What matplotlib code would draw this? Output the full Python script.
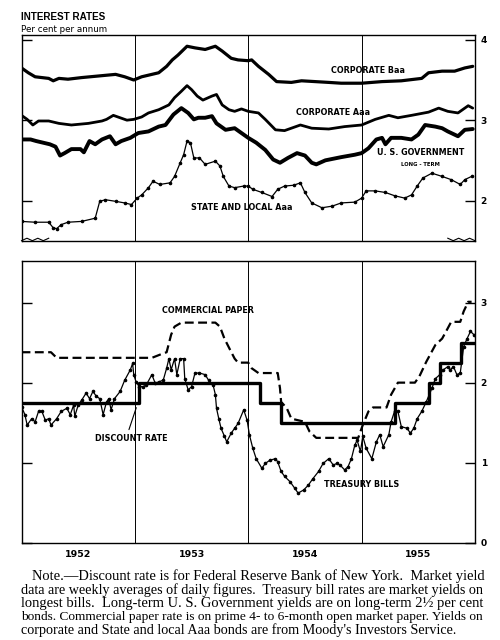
import matplotlib
matplotlib.use("Agg")
import matplotlib.pyplot as plt

# ---------------- data (fractional years, per cent per annum) ----------------
baa_t = [1952.00, 1952.06, 1952.12, 1952.24, 1952.28, 1952.33, 1952.41, 1952.53, 1952.68, 1952.83,
         1952.91, 1952.99, 1953.06, 1953.21, 1953.28, 1953.33, 1953.38, 1953.46, 1953.53, 1953.62,
         1953.71, 1953.77, 1953.85, 1953.91, 1954.00, 1954.03, 1954.09, 1954.18, 1954.25, 1954.38,
         1954.47, 1954.59, 1954.71, 1954.82, 1955.00, 1955.18, 1955.35, 1955.53, 1955.59, 1955.71,
         1955.82, 1955.91, 1955.98]
baa_v = [3.65, 3.59, 3.54, 3.52, 3.49, 3.52, 3.51, 3.53, 3.55, 3.57,
         3.54, 3.50, 3.54, 3.59, 3.67, 3.75, 3.81, 3.92, 3.90, 3.88,
         3.92, 3.86, 3.77, 3.75, 3.74, 3.75, 3.67, 3.57, 3.48, 3.47,
         3.49, 3.48, 3.47, 3.46, 3.46, 3.48, 3.49, 3.52, 3.59, 3.61,
         3.61, 3.65, 3.67]

aaa_t = [1952.00, 1952.05, 1952.10, 1952.15, 1952.24, 1952.33, 1952.44, 1952.59, 1952.71, 1952.75,
         1952.81, 1952.87, 1952.93, 1952.99, 1953.06, 1953.12, 1953.21, 1953.30, 1953.35, 1953.41,
         1953.46, 1953.50, 1953.55, 1953.60, 1953.68, 1953.72, 1953.77, 1953.83, 1953.88, 1953.94,
         1954.00, 1954.09, 1954.15, 1954.24, 1954.32, 1954.46, 1954.56, 1954.71, 1954.85, 1955.00,
         1955.12, 1955.24, 1955.32, 1955.44, 1955.59, 1955.68, 1955.76, 1955.85, 1955.94, 1955.98]
aaa_v = [3.06, 3.01, 2.94, 2.99, 2.99, 2.96, 2.94, 2.96, 2.99, 3.01,
         3.06, 3.03, 3.00, 3.01, 3.04, 3.09, 3.13, 3.19, 3.28, 3.36,
         3.43, 3.38, 3.30, 3.25, 3.30, 3.32, 3.19, 3.13, 3.11, 3.14,
         3.11, 3.09, 3.01, 2.88, 2.87, 2.94, 2.90, 2.89, 2.92, 2.94,
         3.01, 3.06, 3.03, 3.06, 3.10, 3.15, 3.11, 3.09, 3.18, 3.15]

gov_t = [1952.00, 1952.08, 1952.13, 1952.19, 1952.25, 1952.30, 1952.34, 1952.38, 1952.44, 1952.52,
         1952.55, 1952.60, 1952.65, 1952.71, 1952.78, 1952.83, 1952.88, 1952.96, 1953.03, 1953.12,
         1953.21, 1953.27, 1953.34, 1953.41, 1953.47, 1953.52, 1953.56, 1953.62, 1953.68, 1953.72,
         1953.80, 1953.88, 1953.94, 1954.00, 1954.07, 1954.15, 1954.22, 1954.28, 1954.35, 1954.43,
         1954.50, 1954.56, 1954.60, 1954.68, 1954.82, 1954.94, 1955.00, 1955.06, 1955.13, 1955.18,
         1955.21, 1955.26, 1955.35, 1955.44, 1955.50, 1955.56, 1955.65, 1955.71, 1955.76, 1955.85,
         1955.91, 1955.98]
gov_v = [2.76, 2.76, 2.74, 2.72, 2.70, 2.67, 2.56, 2.59, 2.64, 2.64,
         2.60, 2.74, 2.70, 2.76, 2.80, 2.70, 2.74, 2.78, 2.84, 2.86,
         2.92, 2.94, 3.07, 3.15, 3.09, 3.01, 3.03, 3.03, 3.05, 2.96,
         2.88, 2.90, 2.84, 2.78, 2.72, 2.63, 2.51, 2.47, 2.53, 2.59,
         2.56, 2.47, 2.45, 2.50, 2.54, 2.57, 2.59, 2.65, 2.76, 2.78,
         2.70, 2.78, 2.78, 2.76, 2.82, 2.94, 2.92, 2.90, 2.86, 2.80,
         2.88, 2.89]

state_t = [1952.00, 1952.12, 1952.24, 1952.28, 1952.31, 1952.35, 1952.41, 1952.53, 1952.65, 1952.69,
           1952.74, 1952.83, 1952.91, 1952.97, 1953.02, 1953.06, 1953.12, 1953.16, 1953.22, 1953.31,
           1953.35, 1953.40, 1953.43, 1953.46, 1953.49, 1953.52, 1953.57, 1953.62, 1953.71, 1953.75,
           1953.78, 1953.83, 1953.88, 1953.96, 1954.00, 1954.04, 1954.12, 1954.21, 1954.26, 1954.32,
           1954.40, 1954.46, 1954.50, 1954.56, 1954.65, 1954.74, 1954.82, 1954.94, 1955.00, 1955.04,
           1955.12, 1955.21, 1955.29, 1955.38, 1955.44, 1955.49, 1955.54, 1955.62, 1955.71, 1955.79,
           1955.87, 1955.91, 1955.97]
state_v = [1.74, 1.73, 1.73, 1.66, 1.65, 1.70, 1.73, 1.74, 1.78, 1.99,
           2.01, 1.99, 1.97, 1.95, 2.03, 2.07, 2.16, 2.24, 2.20, 2.22,
           2.30, 2.47, 2.57, 2.74, 2.72, 2.53, 2.53, 2.45, 2.49, 2.43,
           2.30, 2.18, 2.16, 2.18, 2.18, 2.14, 2.10, 2.05, 2.14, 2.18,
           2.19, 2.22, 2.10, 1.97, 1.91, 1.93, 1.97, 1.98, 2.03, 2.12,
           2.12, 2.10, 2.06, 2.03, 2.07, 2.18, 2.28, 2.34, 2.30, 2.26,
           2.20, 2.26, 2.30]

cp_t = [1952.00, 1952.26, 1952.31, 1953.15, 1953.24, 1953.28, 1953.32, 1953.35, 1953.41, 1953.71,
        1953.75, 1953.79, 1953.84, 1953.88, 1953.91, 1954.00, 1954.03, 1954.09, 1954.26, 1954.28,
        1954.29, 1954.34, 1954.38, 1954.50, 1954.54, 1954.60, 1954.97, 1955.01, 1955.06, 1955.10,
        1955.22, 1955.26, 1955.32, 1955.47, 1955.51, 1955.57, 1955.65, 1955.71, 1955.76, 1955.79,
        1955.87, 1955.90, 1955.94, 1955.97]
cp_v = [2.38, 2.38, 2.31, 2.31, 2.36, 2.38, 2.60, 2.70, 2.75, 2.75,
        2.70, 2.55, 2.41, 2.30, 2.25, 2.25, 2.18, 2.12, 2.12, 1.93,
        1.76, 1.68, 1.55, 1.51, 1.39, 1.31, 1.31, 1.47, 1.64, 1.69,
        1.69, 1.85, 2.00, 2.00, 2.08, 2.26, 2.47, 2.55, 2.68, 2.76,
        2.76, 2.89, 3.01, 3.01]

tb_t = [1952.00, 1952.03, 1952.05, 1952.09, 1952.12, 1952.15, 1952.18, 1952.21, 1952.24, 1952.26,
        1952.31, 1952.35, 1952.40, 1952.43, 1952.46, 1952.47, 1952.50, 1952.53, 1952.57, 1952.60,
        1952.63, 1952.66, 1952.69, 1952.72, 1952.75, 1952.77, 1952.79, 1952.82, 1952.87, 1952.91,
        1952.96, 1952.98, 1952.99, 1953.01, 1953.04, 1953.07, 1953.10, 1953.15, 1953.18, 1953.21,
        1953.25, 1953.28, 1953.30, 1953.32, 1953.35, 1953.37, 1953.40, 1953.43, 1953.44, 1953.47,
        1953.50, 1953.53, 1953.57, 1953.62, 1953.65, 1953.69, 1953.71, 1953.72, 1953.74, 1953.76,
        1953.79, 1953.81, 1953.85, 1953.88, 1953.91, 1953.96, 1953.99, 1954.01, 1954.04, 1954.07,
        1954.12, 1954.15, 1954.19, 1954.24, 1954.26, 1954.29, 1954.32, 1954.37, 1954.41, 1954.44,
        1954.49, 1954.53, 1954.57, 1954.62, 1954.66, 1954.71, 1954.75, 1954.78, 1954.81, 1954.85,
        1954.88, 1954.91, 1954.94, 1954.96, 1954.99, 1955.01, 1955.04, 1955.09, 1955.13, 1955.16,
        1955.19, 1955.24, 1955.26, 1955.29, 1955.32, 1955.35, 1955.40, 1955.43, 1955.46, 1955.49,
        1955.53, 1955.57, 1955.62, 1955.65, 1955.69, 1955.72, 1955.76, 1955.78, 1955.81, 1955.84,
        1955.87, 1955.90, 1955.93, 1955.96, 1955.99]
tb_v = [1.70, 1.60, 1.47, 1.55, 1.51, 1.64, 1.64, 1.53, 1.55, 1.47,
        1.55, 1.64, 1.68, 1.60, 1.72, 1.58, 1.72, 1.78, 1.87, 1.80,
        1.89, 1.83, 1.80, 1.60, 1.76, 1.80, 1.66, 1.80, 1.89, 2.03,
        2.16, 2.24, 2.10, 2.01, 1.95, 1.95, 1.97, 2.10, 1.99, 2.01,
        2.03, 2.18, 2.30, 2.16, 2.30, 2.10, 2.30, 2.30, 2.05, 1.91,
        1.95, 2.12, 2.12, 2.10, 2.03, 1.97, 1.85, 1.68, 1.55, 1.43,
        1.33, 1.26, 1.37, 1.43, 1.49, 1.66, 1.53, 1.35, 1.18, 1.05,
        0.93, 0.99, 1.03, 1.05, 1.01, 0.89, 0.83, 0.76, 0.68, 0.62,
        0.66, 0.72, 0.80, 0.89, 0.99, 1.05, 0.97, 0.99, 0.97, 0.91,
        0.95, 1.05, 1.22, 1.28, 1.14, 1.33, 1.18, 1.05, 1.26, 1.35,
        1.20, 1.35, 1.51, 1.64, 1.64, 1.45, 1.43, 1.37, 1.43, 1.55,
        1.64, 1.76, 1.93, 2.05, 2.10, 2.16, 2.20, 2.16, 2.20, 2.10,
        2.12, 2.45, 2.55, 2.64, 2.60]

disc_t = [1952.00, 1953.04, 1954.10, 1954.29, 1955.29, 1955.59, 1955.69, 1955.88, 1956.00]
disc_v = [1.75, 2.00, 1.75, 1.50, 1.75, 2.00, 2.25, 2.50, 2.50]

years = [1952, 1953, 1954, 1955]
top_ticks = [2, 3, 4]
bottom_ticks = [0, 1, 2, 3]

note_lines = [
    "Note.\u2014Discount rate is for Federal Reserve Bank of New York.  Market yield",
    "data are weekly averages of daily figures.  Treasury bill rates are market yields on",
    "longest bills.  Long-term U. S. Government yields are on long-term 2\u00bd per cent",
    "bonds. Commercial paper rate is on prime 4- to 6-month open market paper. Yields on",
    "corporate and State and local Aaa bonds are from Moody's Investors Service.",
]

# ---------------- figure ----------------
W, H = 500, 640
fig = plt.figure(figsize=(W / 100, H / 100), dpi=100)
fig.patch.set_facecolor("white")
renderer = fig.canvas.get_renderer()

def fx(px):
    return px / W

def fy(py):
    return 1 - py / H

def text_width_px(t):
    return t.get_window_extent(renderer=renderer).width

left, right = 21.5, 475
ax1 = fig.add_axes([fx(left), fy(240.7), fx(right) - fx(left), fy(35) - fy(240.7)])
ax2 = fig.add_axes([fx(left), fy(542.7), fx(right) - fx(left), fy(261) - fy(542.7)])

SANS = ["DejaVu Sans"]
LBL = dict(family=SANS, fontweight="bold", color="black", fontsize=5.8)

for ax in (ax1, ax2):
    ax.set_xlim(1952, 1956)
    for side in ax.spines.values():
        side.set_linewidth(1.0)
        side.set_color("black")
    for yr in years[1:]:
        ax.axvline(yr, color="black", lw=0.7, zorder=1)
    ax.tick_params(axis="y", which="both", direction="in", length=7, width=1.0,
                   left=True, right=True, labelleft=False, labelright=True, pad=4)

# top panel
ax1.set_ylim(1.5, 4.06)
ax1.set_yticks(top_ticks)
ax1.set_yticklabels([str(v) for v in top_ticks], fontweight="bold", fontsize=6.5, family=SANS)
ax1.set_xticks([])
ax1.plot(baa_t, baa_v, color="black", lw=2.3, solid_capstyle="round", zorder=3)
ax1.plot(aaa_t, aaa_v, color="black", lw=2.0, solid_capstyle="round", zorder=3)
ax1.plot(gov_t, gov_v, color="black", lw=2.8, solid_capstyle="round", zorder=3)
ax1.plot(state_t, state_v, color="black", lw=0.9, marker="o", ms=1.6, zorder=3)

ax1.text(1955.055, 3.62, "CORPORATE Baa", ha="center", va="center", **LBL)
ax1.text(1954.75, 3.09, "CORPORATE Aaa", ha="center", va="center", **LBL)
ax1.text(1955.52, 2.60, "U. S. GOVERNMENT", ha="center", va="center", **LBL)
ax1.text(1955.52, 2.45, "LONG - TERM", ha="center", va="center",
         family=SANS, fontweight="bold", fontsize=3.8)
ax1.text(1953.94, 1.91, "STATE AND LOCAL Aaa", ha="center", va="center", **LBL)

# top-panel break marks (small zigzags along the broken bottom edge)
zz_x = [0.0, 0.012, 0.024, 0.036, 0.048, 0.060]
zz_y = [0.0, 0.012, 0.0, 0.012, 0.0, 0.012]
ax1.plot(zz_x, zz_y, transform=ax1.transAxes, color="black", lw=0.8, clip_on=False)
ax1.plot([1 - v for v in zz_x], zz_y, transform=ax1.transAxes, color="black", lw=0.8,
         clip_on=False)

# bottom panel
ax2.set_ylim(0, 3.52)
ax2.set_yticks(bottom_ticks)
ax2.set_yticklabels([str(v) for v in bottom_ticks], fontweight="bold", fontsize=6.5, family=SANS)
ax2.set_xticks([y + 0.5 for y in years])
ax2.set_xticklabels([str(y) for y in years], fontweight="bold", fontsize=6.8, family=SANS)
ax2.tick_params(axis="x", length=0, pad=5)

ax2.plot(cp_t, cp_v, color="black", lw=1.6, dashes=(4, 2), zorder=3)
ax2.plot(tb_t, tb_v, color="black", lw=0.9, marker="o", ms=1.6, zorder=3)
ax2.plot(disc_t, disc_v, color="black", lw=2.4, drawstyle="steps-post", zorder=4)

ax2.text(1953.645, 2.90, "COMMERCIAL PAPER", ha="center", va="center", **LBL)
ax2.text(1952.97, 1.30, "DISCOUNT RATE", ha="center", va="center", **LBL)
ax2.annotate("", xy=(1953.02, 1.72), xytext=(1952.94, 1.38),
             arrowprops=dict(arrowstyle="-", lw=0.8, color="black"))
ax2.text(1955.00, 0.73, "TREASURY BILLS", ha="center", va="center", **LBL)

# titles (fitted to the width they take in the reference)
title = fig.text(fx(21), fy(17), "INTEREST RATES", ha="left", va="center", fontsize=8.5,
                 fontweight="bold", family=["Liberation Sans Narrow", "Liberation Sans", "DejaVu Sans"])
title.set_fontsize(8.5 * 84 / text_width_px(title))
sub = fig.text(fx(21), fy(29), "Per cent per annum", ha="left", va="center", fontsize=6.3,
               family=SANS)
sub.set_fontsize(6.3 * 86 / text_width_px(sub))

# note (each full line fitted to the justified measure of the reference)
note_y = [576, 590, 603, 617, 630]
note_x0 = [32, 21, 21, 21, 21]
note_right = 484
sizes = []
objs = []
for i, line in enumerate(note_lines):
    t = fig.text(fx(note_x0[i]), fy(note_y[i]), line, ha="left", va="center",
                 fontsize=9.0, family=["Liberation Serif", "DejaVu Serif"])
    objs.append(t)
    if i < len(note_lines) - 1:
        s = 9.0 * (note_right - note_x0[i]) / text_width_px(t)
        t.set_fontsize(s)
        sizes.append(s)
objs[-1].set_fontsize(sum(sizes) / len(sizes))

fig.savefig("out.png", dpi=100, facecolor="white")
